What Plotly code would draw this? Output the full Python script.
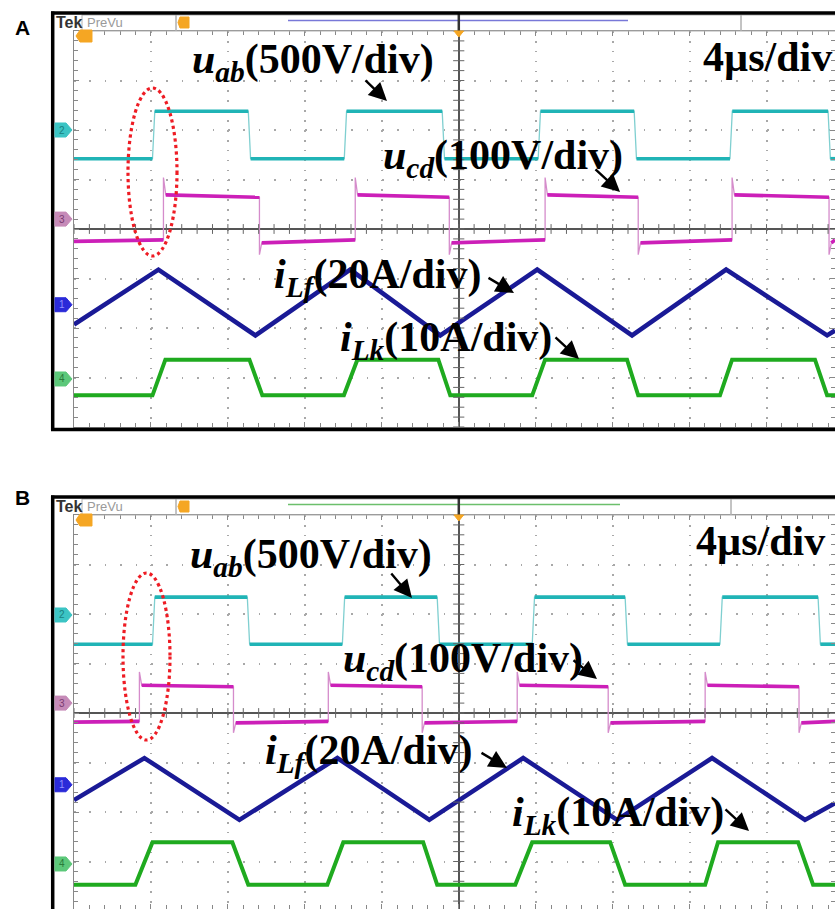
import numpy as np
import plotly.graph_objects as go

# ---------------- data (time in µs relative to trigger, amplitude in divisions) -------------
T0, T1 = -20.0, 19.56          # visible time window (4 µs/div)

# Panel A
A_uab_rise = [-15.92, -5.95, 4.13, 14.10]
A_uab_fall = [-10.94, -0.86, 9.12, 19.20]
A_uab_high = (2.38, 2.38)
A_uab_low = (1.42, 1.42)

A_ucd_rise = [-15.35, -5.38, 4.49, 14.21]
A_ucd_fall = [-10.36, -0.49, 9.33, 19.25]
A_ucd_high = (0.69, 0.64)
A_ucd_low = (-0.28, -0.22)
A_ucd_spike = (1.04, -0.52)

A_ilf_t = [-20.0, -15.61, -10.57, -5.64, -0.96, 4.08, 9.01, 13.90, 19.15, 19.56]
A_ilf_v = [-1.93, -0.82, -2.15, -0.82, -2.15, -0.82, -2.15, -0.82, -2.15, -2.05]

A_ilk_rise0 = [-15.92, -5.97, 3.82, 13.58]
A_ilk_rise1 = [-15.25, -5.27, 4.49, 14.21]
A_ilk_fall0 = [-10.88, -1.06, 8.75, 18.52]
A_ilk_fall1 = [-10.21, -0.44, 9.33, 19.15]
A_ilk_high, A_ilk_low = -2.64, -3.36

# Panel B
B_uab_rise = [-15.92, -6.05, 3.82, 13.58]
B_uab_fall = [-10.99, -1.12, 8.65, 18.68]
B_uab_high = (2.34, 2.34)
B_uab_low = (1.39, 1.39)

B_ucd_rise = [-16.60, -6.78, 3.04, 12.81]
B_ucd_fall = [-11.71, -1.90, 7.77, 17.69]
B_ucd_high = (0.56, 0.53)
B_ucd_low = (-0.20, -0.17)
B_ucd_spike = (0.83, -0.40)

B_ilf_t = [-20.0, -16.34, -11.40, -6.31, -1.53, 3.35, 8.23, 13.17, 18.00, 19.56]
B_ilf_v = [-1.76, -0.91, -2.16, -0.91, -2.16, -0.91, -2.16, -0.91, -2.16, -1.82]

B_ilk_rise0 = [-16.81, -6.83, 2.94, 12.81]
B_ilk_rise1 = [-15.92, -6.00, 3.82, 13.48]
B_ilk_fall0 = [-11.77, -1.85, 7.87, 17.64]
B_ilk_fall1 = [-10.94, -1.12, 8.65, 18.42]
B_ilk_high, B_ilk_low = -2.61, -3.47

# channel marker levels (div)
A_marks = {"2": 2.0, "3": 0.2, "1": -1.53, "4": -3.03}
B_marks = {"2": 1.98, "3": 0.2, "1": -1.45, "4": -3.05}

# ---------------- colours -------------
C_UAB = "#20b4b6"
C_UAB_EDGE = "#7fcfd0"
C_UCD = "#cc1fb8"
C_UCD_EDGE = "#d58ccb"
C_ILF = "#1a1a96"
C_ILK = "#1faa1f"

# ---------------- geometry -------------
W, H = 835, 909
ML, MT = 74, 31
PW, PH = W - ML, H - MT


def px(x):
    return (x - ML) / PW


def py(y):
    return (H - y) / PH


fig = go.Figure()


def square(rise, fall, hi, lo, spike=None):
    ev = sorted([(t, "r") for t in rise] + [(t, "f") for t in fall])
    state = "lo" if ev[0][1] == "r" else "hi"
    lev = {"hi": hi, "lo": lo}
    thick_x, thick_y, thin_x, thin_y = [], [], [], []
    start = T0
    first = True
    for t, kind in ev + [(T1, "end")]:
        s, e = lev[state]
        if first:
            s = (s + e) / 2
        a = start + (0 if first else 0.12)
        b = min(t, T1)
        thick_x += [a, b, None]
        thick_y += [s, e, None]
        thin_x += [a, b]
        thin_y += [s, e]
        if kind == "end" or t >= T1:
            break
        if spike is not None:
            thin_x += [t]
            thin_y += [spike[0] if kind == "r" else spike[1]]
        state = "hi" if kind == "r" else "lo"
        start = t
        first = False
    return thick_x, thick_y, thin_x, thin_y


def trapezoid(r0, r1, f0, f1, hi, lo):
    x, y = [T0], [lo]
    for a, b, c, d in zip(r0, r1, f0, f1):
        x += [a, b, c, d]
        y += [lo, hi, hi, lo]
    x.append(T1)
    y.append(lo)
    return x, y


def add_panel(xa, ya, uab, ucd, ilf, ilk):
    for (tx, ty, nx, ny), col, ecol in [(uab, C_UAB, C_UAB_EDGE), (ucd, C_UCD, C_UCD_EDGE)]:
        fig.add_trace(go.Scatter(x=nx, y=ny, mode="lines", line=dict(color=ecol, width=1.3),
                                 xaxis=xa, yaxis=ya, hoverinfo="skip", showlegend=False))
        fig.add_trace(go.Scatter(x=tx, y=ty, mode="lines", line=dict(color=col, width=3.6),
                                 xaxis=xa, yaxis=ya, hoverinfo="skip", showlegend=False))
    fig.add_trace(go.Scatter(x=ilf[0], y=ilf[1], mode="lines", line=dict(color=C_ILF, width=4.5),
                             xaxis=xa, yaxis=ya, hoverinfo="skip", showlegend=False))
    fig.add_trace(go.Scatter(x=ilk[0], y=ilk[1], mode="lines", line=dict(color=C_ILK, width=4),
                             xaxis=xa, yaxis=ya, hoverinfo="skip", showlegend=False))
    # centre-line minor ticks
    yt = np.arange(-4, 4.001, 0.2)
    fig.add_trace(go.Scatter(x=np.zeros_like(yt), y=yt, mode="markers",
                             marker=dict(symbol="line-ew", size=8, line=dict(color="#666", width=1)),
                             xaxis=xa, yaxis=ya, hoverinfo="skip", showlegend=False))
    xt = np.arange(-20, 19.6, 0.8)
    fig.add_trace(go.Scatter(x=xt, y=np.zeros_like(xt), mode="markers",
                             marker=dict(symbol="line-ns", size=7, line=dict(color="#666", width=1)),
                             xaxis=xa, yaxis=ya, hoverinfo="skip", showlegend=False))


add_panel("x", "y",
          square(A_uab_rise, A_uab_fall, A_uab_high, A_uab_low),
          square(A_ucd_rise, A_ucd_fall, A_ucd_high, A_ucd_low, A_ucd_spike),
          (A_ilf_t, A_ilf_v),
          trapezoid(A_ilk_rise0, A_ilk_rise1, A_ilk_fall0, A_ilk_fall1, A_ilk_high, A_ilk_low))
add_panel("x2", "y2",
          square(B_uab_rise, B_uab_fall, B_uab_high, B_uab_low),
          square(B_ucd_rise, B_ucd_fall, B_ucd_high, B_ucd_low, B_ucd_spike),
          (B_ilf_t, B_ilf_v),
          trapezoid(B_ilk_rise0, B_ilk_rise1, B_ilk_fall0, B_ilk_fall1, B_ilk_high, B_ilk_low))

GRID = "#a8a8a8"
xax = dict(range=[T0, T1], dtick=4, tick0=0, showticklabels=False, ticks="inside", ticklen=5,
           tickcolor="#888", showgrid=True, gridcolor=GRID, gridwidth=1.6, griddash="1.6px,8.3px",
           zeroline=True, zerolinecolor="#555", zerolinewidth=1.6,
           showline=True, linecolor="#888", linewidth=1.2, mirror="ticks",
           minor=dict(dtick=0.8, ticks="inside", ticklen=4, tickcolor="#888", showgrid=False))
yax = dict(dtick=1, tick0=0, showticklabels=False, ticks="inside", ticklen=5,
           tickcolor="#888", showgrid=True, gridcolor=GRID, gridwidth=1.6, griddash="1.6px,13.8px",
           zeroline=True, zerolinecolor="#555", zerolinewidth=1.6,
           showline=True, linecolor="#888", linewidth=1.2, mirror="ticks",
           minor=dict(dtick=0.2, ticks="inside", ticklen=4, tickcolor="#888", showgrid=False))

A_top, A_bot = 31, 427
B_top = 515
DIV = 49.5
A_c = A_top + 4 * DIV
B_c = B_top + 4 * DIV
B_lo = 4 - (H - B_top) / DIV

fig.update_layout(
    width=W, height=H, margin=dict(l=ML, r=0, t=MT, b=0),
    paper_bgcolor="white", plot_bgcolor="white",
    xaxis=dict(xax, domain=[0, 1], anchor="y"),
    yaxis=dict(yax, domain=[py(A_bot), 1], range=[-4, 4], anchor="x"),
    xaxis2=dict(xax, domain=[0, 1], anchor="y2"),
    yaxis2=dict(yax, domain=[0, py(B_top)], range=[B_lo, 4], anchor="x2"),
)

shapes = []
ann = []


def line(x0, y0, x1, y1, color, width):
    shapes.append(dict(type="line", xref="paper", yref="paper", x0=px(x0), y0=py(y0),
                       x1=px(x1), y1=py(y1), line=dict(color=color, width=width)))


def rect(x0, y0, x1, y1, color, width, fill="rgba(0,0,0,0)"):
    shapes.append(dict(type="rect", xref="paper", yref="paper", x0=px(x0), y0=py(y0),
                       x1=px(x1), y1=py(y1), line=dict(color=color, width=width), fillcolor=fill))


def path(pts, fill, color=None):
    d = "M " + " L ".join(f"{px(a):.5f},{py(b):.5f}" for a, b in pts) + " Z"
    shapes.append(dict(type="path", xref="paper", yref="paper", path=d, fillcolor=fill,
                       line=dict(color=color or fill, width=1)))


def text(x, y, s, size, color="black", family="Liberation Serif", xanchor="left"):
    ann.append(dict(x=px(x), y=py(y), xref="paper", yref="paper", text=s, showarrow=False,
                    xanchor=xanchor, yanchor="middle", font=dict(size=size, color=color, family=family)))


def arrow(x0, y0, x1, y1):
    ann.append(dict(x=px(x1), y=py(y1), xref="paper", yref="paper", ax=x0 - x1, ay=y0 - y1,
                    text="", showarrow=True, arrowhead=2,
                    arrowsize=1.5, arrowwidth=2.4, arrowcolor="black"))


MARK_COL = {"1": ("#2a2ad8", "#9090ff"), "2": ("#3cc4c4", "#1a8080"),
            "3": ("#c68ab8", "#7a3a70"), "4": ("#5cc87a", "#2a7a3a")}


def panel_deco(top, centre, bottom, marks, hdr_line_col, hdr_div, hdr_end, label, yref, ell):
    # header bar
    rect(82, top + 2, 176, top + 18, "#b0b0b0", 1)
    rect(176, top + 2, hdr_div, top + 18, "#b0b0b0", 1)
    rect(hdr_div, top + 2, 840, top + 18, "#b0b0b0", 1)
    line(288, top + 7.5, hdr_end, top + 7.5, hdr_line_col, 1.6)
    text(54, top + 9.5, "<b>Tek</b>", 16, "#333", "Liberation Sans")
    text(85, top + 9.5, "PreVu", 13, "#9a9a9a", "Liberation Sans")
    # header orange marker
    path([(180, top + 4), (189, top + 4), (189, top + 15), (180, top + 15), (178, top + 9.5)], "#f5a623")
    # centre trigger bar and triangle
    line(458.8, top, 458.8, top + 18, "#333", 2.5)
    path([(454, top + 18), (463.6, top + 18), (458.8, top + 24)], "#f5a623")
    # trigger level marker (T)
    path([(80, top + 9 + 8), (92, top + 9 + 8), (92, top + 9 + 20), (80, top + 9 + 20), (76, top + 9 + 14)], "#f5a623")
    # outer frame
    line(51, top, 840, top, "black", 3.5)
    line(52.7, top - 1.5, 52.7, min(bottom + 3, H + 5), "black", 3.5)
    if bottom < H:
        line(51, bottom + 2.5, 840, bottom + 2.5, "black", 3.5)
    # channel markers
    for k, v in marks.items():
        yy = centre - v * DIV
        fc, tc = MARK_COL[k]
        path([(55, yy - 7), (66, yy - 7), (72, yy), (66, yy + 7), (55, yy + 7)], fc)
        text(62, yy, k, 10, tc, "Liberation Sans", "center")
    # panel letter
    text(22, yref, "<b>" + label + "</b>", 21, "black", "Liberation Sans", "center")
    # red dashed ellipse
    shapes.append(dict(type="circle", xref="paper", yref="paper",
                       x0=px(ell[0]), x1=px(ell[1]), y0=py(ell[2]), y1=py(ell[3]),
                       line=dict(color="#ee1c24", width=3.2, dash="dot")))


panel_deco(13, A_c, A_bot, A_marks, "#7878d8", 741, 628, "A", 27, (128, 177, 88, 256))
panel_deco(497, B_c, H + 10, B_marks, "#6cbf6c", 731, 620, "B", 497, (123, 170, 573, 740))

LBL = 42
# panel A labels
text(190, 62, "<b><i>u</i><sub><i>ab</i></sub>(500V/div)</b>", LBL)
arrow(364, 79, 387, 101)
text(381, 158, "<b><i>u</i><sub><i>cd</i></sub>(100V/div)</b>", LBL)
arrow(594, 168, 620, 192)
text(272, 277, "<b><i>i</i><sub><i>Lf</i></sub>(20A/div)</b>", LBL)
arrow(487, 277, 514, 293)
text(338, 340, "<b><i>i</i><sub><i>Lk</i></sub>(10A/div)</b>", LBL)
arrow(554, 336, 579, 359)
text(701, 57, "<b>4µs/div</b>", LBL)

# panel B labels
text(188, 557, "<b><i>u</i><sub><i>ab</i></sub>(500V/div)</b>", LBL)
arrow(390, 572, 412, 598)
text(341, 661, "<b><i>u</i><sub><i>cd</i></sub>(100V/div)</b>", LBL)
arrow(572, 659, 597, 679)
text(263, 753, "<b><i>i</i><sub><i>Lf</i></sub>(20A/div)</b>", LBL)
arrow(480, 752, 507, 768)
text(510, 815, "<b><i>i</i><sub><i>Lk</i></sub>(10A/div)</b>", LBL)
arrow(724, 808, 749, 831)
text(694, 541, "<b>4µs/div</b>", LBL)

fig.update_layout(shapes=shapes, annotations=ann)
fig.write_html("out.html")
